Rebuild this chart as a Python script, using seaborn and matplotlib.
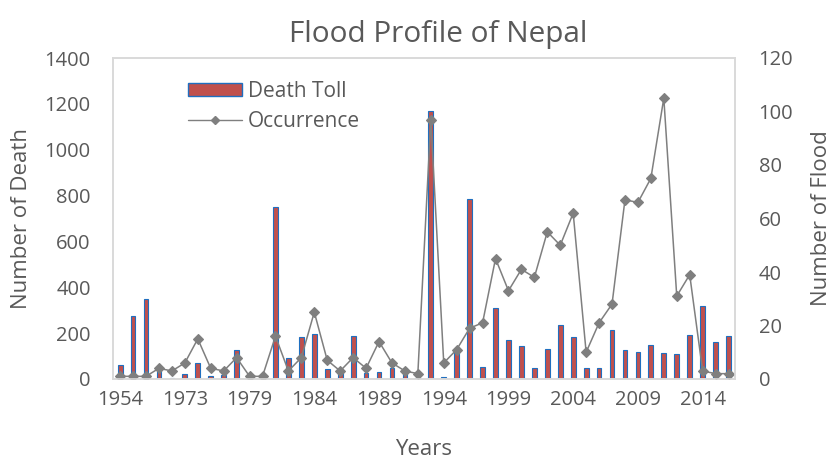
import matplotlib
matplotlib.use("Agg")
import matplotlib.pyplot as plt
from matplotlib.patches import Patch
from matplotlib.lines import Line2D
import seaborn as sns
import pandas as pd

# Flood years (category axis, labelled every fifth entry)
years = [1954, 1964, 1968, 1970, 1971, 1973, 1974, 1975, 1976, 1978,
         1979, 1980, 1981, 1982, 1983, 1984, 1985, 1986, 1987, 1988,
         1989, 1990, 1991, 1992, 1993, 1994, 1995, 1996, 1997, 1998,
         1999, 2000, 2001, 2002, 2003, 2004, 2005, 2006, 2007, 2008,
         2009, 2010, 2011, 2012, 2013, 2014, 2015, 2016]

# Number of deaths per year
death_toll = [60, 276, 349, 40, 5, 22, 70, 15, 18, 128,
              0, 0, 750, 90, 184, 198, 44, 25, 187, 26,
              29, 49, 47, 5, 1168, 8, 128, 786, 52, 310,
              170, 143, 47, 131, 237, 184, 48, 48, 212, 125,
              116, 148, 112, 110, 193, 317, 161, 186]

# Number of flood events per year
occurrence = [1, 1, 1, 4, 3, 6, 15, 4, 3, 8,
              1, 1, 16, 3, 8, 25, 7, 3, 8, 4,
              14, 6, 3, 2, 97, 6, 11, 19, 21, 45,
              33, 41, 38, 55, 50, 62, 10, 21, 28, 67,
              66, 75, 105, 31, 39, 3, 2, 2]

title = "Flood Profile of Nepal"
xlabel = "Years"
ylabel_left = "Number of Death"
ylabel_right = "Number of Flood"

sns.set_style("white")
plt.rcParams["font.family"] = ["Open Sans", "DejaVu Sans"]

TEXT = "#595959"
BAR_FILL = "#C0504D"
BAR_EDGE = "#1F6FC0"
LINE = "#7F7F7F"
GRID = "#D9D9D9"

labels = [str(y) for y in years]
df = pd.DataFrame({"year": labels, "deaths": death_toll, "floods": occurrence})

W, H = 834, 459
fig = plt.figure(figsize=(W / 100, H / 100), dpi=100)
ax = fig.add_axes([113 / W, 1 - 379 / H, (735 - 113) / W, (379 - 58) / H])

sns.barplot(data=df, x="year", y="deaths", order=labels, ax=ax,
            color=BAR_FILL, edgecolor=BAR_EDGE, linewidth=0.8,
            width=0.37, saturation=1, errorbar=None)

ax2 = ax.twinx()
sns.pointplot(data=df, x="year", y="floods", order=labels, ax=ax2,
              color=LINE, markers="D", markersize=5.5, linewidth=1.1,
              errorbar=None)

xmin, xmax = -0.55, 47.5
ax.set_xlim(xmin, xmax)
ax2.set_xlim(xmin, xmax)
ax.set_ylim(0, 1400)
ax2.set_ylim(0, 120)
ax.set_yticks(range(0, 1401, 200))
ax2.set_yticks(range(0, 121, 20))

ticks = list(range(0, len(labels), 5))
ax.set_xticks(ticks)
ax.set_xticklabels([labels[i] for i in ticks])

for a in (ax, ax2):
    a.tick_params(axis="both", length=0, labelsize=14.5, colors=TEXT)
    for s in a.spines.values():
        s.set_color(GRID)
        s.set_linewidth(1.2)
ax.tick_params(axis="y", pad=16)
ax2.tick_params(axis="y", pad=17)
ax.tick_params(axis="x", pad=8)

ax.set_xlabel(xlabel, fontsize=16, color=TEXT, labelpad=21)
ax.set_ylabel(ylabel_left, fontsize=16, color=TEXT, labelpad=9)
ax2.set_ylabel(ylabel_right, fontsize=16, color=TEXT, labelpad=13)
fig.text(438 / W, 1 - 42 / H, title, fontsize=21.4, color=TEXT,
         ha="center", va="baseline")

handles = [Patch(facecolor=BAR_FILL, edgecolor=BAR_EDGE, linewidth=1.0),
           Line2D([], [], color=LINE, marker="D", markersize=4.5, linewidth=1.0)]
leg = ax.legend(handles, ["Death Toll", "Occurrence"], loc="upper left",
                bbox_to_anchor=(169 / W, 1 - 62 / H), bbox_transform=fig.transFigure,
                frameon=False, fontsize=15, handlelength=2.6, handleheight=0.6,
                labelspacing=0.45, handletextpad=0.3)
for t in leg.get_texts():
    t.set_color(TEXT)

fig.savefig("out.png", dpi=100)
